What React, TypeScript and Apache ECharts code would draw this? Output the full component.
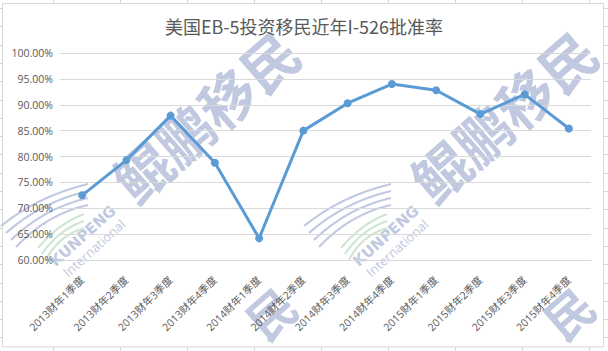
import React, { useEffect, useRef } from "react";
import * as echarts from "echarts";

const titleText = "美国EB-5投资移民近年I-526批准率";
const categories = [
  "2013财年1季度", "2013财年2季度", "2013财年3季度", "2013财年4季度",
  "2014财年1季度", "2014财年2季度", "2014财年3季度", "2014财年4季度",
  "2015财年1季度", "2015财年2季度", "2015财年3季度", "2015财年4季度",
];
const approvalRate = [72.5, 79.3, 87.9, 78.8, 64.2, 85.0, 90.3, 94.0, 92.8, 88.2, 92.0, 85.4];
const yMin = 60;
const yMax = 100;
const yStep = 5;
const watermarkText = "鲲鹏移民";
const watermarkTail = "民";

const WM = "#c1c9e0";
const WMG = "#cde6cf";

function logo(ox: number, oy: number): any[] {
  const els: any[] = [];
  for (let i = 0; i < 4; i++) {
    els.push({
      type: "bezierCurve",
      silent: true,
      shape: {
        x1: ox + 1 + 5 * i, y1: oy + 226 + 7 * i,
        cpx1: ox + 38 + 3 * i, cpy1: oy + 196 + 6 * i,
        x2: ox + 88, y2: oy + 184 + 7 * i,
      },
      style: { stroke: WM, lineWidth: 2.2, fill: null },
    });
  }
  for (let i = 0; i < 3; i++) {
    els.push({
      type: "bezierCurve",
      silent: true,
      shape: {
        x1: ox + 38 + 4 * i, y1: oy + 248 + 6 * i,
        cpx1: ox + 58, cpy1: oy + 224 + 6 * i,
        x2: ox + 84, y2: oy + 214 + 7 * i,
      },
      style: { stroke: WMG, lineWidth: 2, fill: null },
    });
  }
  els.push({
    type: "text",
    silent: true,
    x: ox + 83, y: oy + 236,
    rotation: (42 * Math.PI) / 180,
    style: {
      text: "KUNPENG", fill: WM, fontSize: 15, fontWeight: "bold",
      fontFamily: "'DejaVu Sans', sans-serif", align: "center", verticalAlign: "middle",
    },
  });
  els.push({
    type: "text",
    silent: true,
    x: ox + 94, y: oy + 248,
    rotation: (42 * Math.PI) / 180,
    style: {
      text: "International", fill: WM, fontSize: 13,
      fontFamily: "'Open Sans', sans-serif", align: "center", verticalAlign: "middle",
    },
  });
  return els;
}

function wm(cx: number, cy: number, text: string, size: number): any {
  return {
    type: "text",
    silent: true,
    x: cx, y: cy,
    rotation: (41 * Math.PI) / 180,
    style: {
      text, fill: WM, fontSize: size, fontWeight: "bold",
      fontFamily: "'Noto Sans CJK SC', sans-serif", align: "center", verticalAlign: "middle",
    },
  };
}

function sheetLines(): any[] {
  const els: any[] = [];
  const st = { stroke: "#d6d6d6", lineWidth: 1 };
  for (let k = 0; k < 9; k++) {
    const x = 53.5 + 67 * k;
    els.push({ type: "line", silent: true, shape: { x1: x, y1: 0, x2: x, y2: 3 }, style: st });
    els.push({ type: "line", silent: true, shape: { x1: x, y1: 347, x2: x, y2: 351 }, style: st });
  }
  for (let k = 0; k < 19; k++) {
    const y = Math.round(8 + 18.3 * k) + 0.5;
    els.push({ type: "line", silent: true, shape: { x1: 0, y1: y, x2: 2, y2: y }, style: st });
    els.push({ type: "line", silent: true, shape: { x1: 604, y1: y, x2: 608, y2: y }, style: st });
  }
  els.push({
    type: "rect", silent: true,
    shape: { x: 2.5, y: 3.5, width: 601, height: 343.5 },
    style: { stroke: "#d9d9d9", lineWidth: 1, fill: "#ffffff" },
    z: -10,
  });
  return els;
}

export default function App() {
  const ref = useRef<HTMLDivElement>(null);
  useEffect(() => {
    if (!ref.current) return;
    const chart = echarts.init(ref.current, undefined, { renderer: "svg" });
    chart.setOption({
      animation: false,
      backgroundColor: "#ffffff",
      title: {
        text: titleText,
        left: "center",
        top: 12,
        textStyle: {
          color: "#595959", fontSize: 18, fontWeight: "normal",
          fontFamily: "'Noto Sans CJK SC', sans-serif",
        },
      },
      grid: { left: 60, right: 17, top: 53, bottom: 91 },
      xAxis: {
        type: "category",
        data: categories,
        boundaryGap: true,
        axisLine: { lineStyle: { color: "#d9d9d9" } },
        axisTick: { show: false },
        axisLabel: {
          rotate: 45, interval: 0, margin: 18, color: "#595959", fontSize: 10.5,
          fontFamily: "'Open Sans', 'Noto Sans CJK SC', sans-serif",
        },
      },
      yAxis: {
        type: "value",
        min: yMin, max: yMax, interval: yStep,
        axisLine: { show: false },
        axisTick: { show: false },
        splitLine: { lineStyle: { color: "#d9d9d9", width: 1 } },
        axisLabel: {
          margin: 7, color: "#595959", fontSize: 10.5,
          fontFamily: "'Open Sans', sans-serif",
          formatter: (v: number) => v.toFixed(2) + "%",
        },
      },
      graphic: [
        ...sheetLines(),
        { type: "group", silent: true, z: 1, children: [
          wm(205, 115, watermarkText, 56), wm(503, 115, watermarkText, 56),
          wm(270, 312, watermarkTail, 48), wm(568, 312, watermarkTail, 48),
          ...logo(0, 0), ...logo(303, 0),
        ] },
      ],
      series: [{
        type: "line",
        data: approvalRate,
        z: 5,
        symbol: "circle",
        symbolSize: 8,
        lineStyle: { color: "#5b9bd5", width: 3 },
        itemStyle: { color: "#5b9bd5" },
      }],
    });
    return () => chart.dispose();
  }, []);
  return <div ref={ref} style={{ position: "fixed", left: 0, top: 0, width: 608, height: 351 }} />;
}
